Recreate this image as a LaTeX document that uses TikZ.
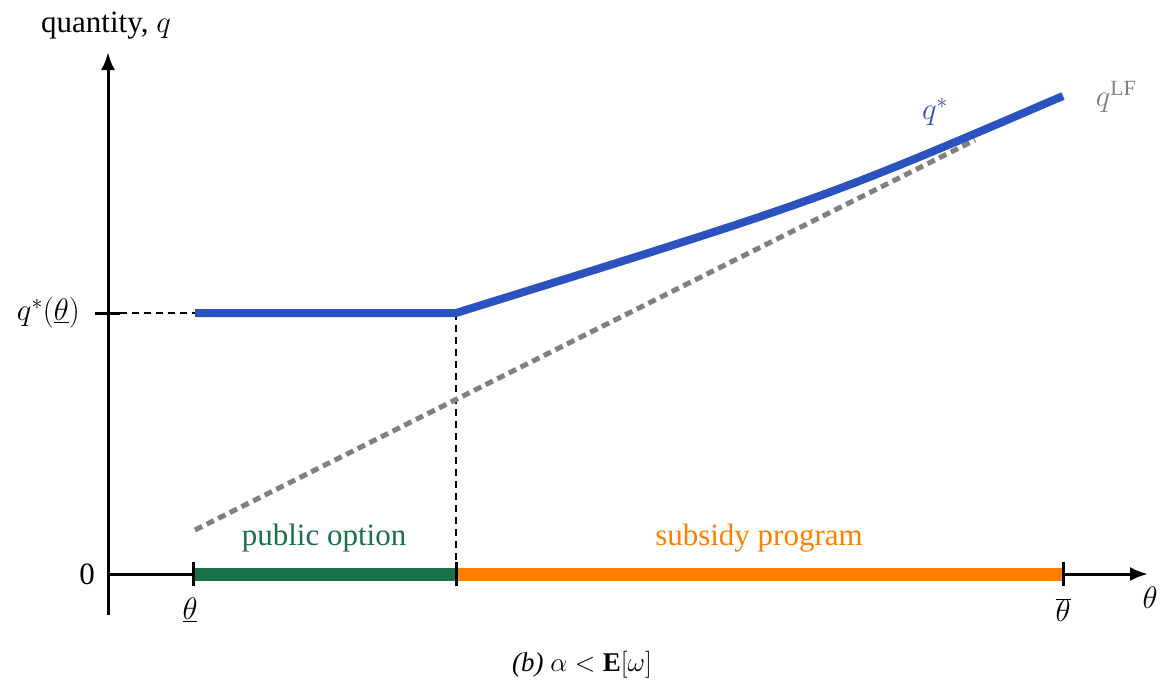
\RequirePackage{fix-cm}
\documentclass[tikz,border=0pt]{standalone}
\usepackage{fontspec}
\setmainfont{Liberation Serif}
\usetikzlibrary{arrows.meta}
\definecolor{qblue}{RGB}{43,82,190}
\definecolor{pgreen}{RGB}{26,112,72}
\definecolor{sorange}{RGB}{255,128,0}
\definecolor{lfgray}{RGB}{128,128,128}
\tikzset{
  axis/.style={line width=3pt,-{Latex[length=18pt,width=14pt]}},
  tickmark/.style={line width=3pt},
  guide/.style={line width=2pt,dash pattern=on 7pt off 5pt},
  lbl/.style={font=\fontsize{31}{36}\selectfont,inner sep=0pt},
}
\begin{document}
\begin{tikzpicture}[x=1pt,y=-1pt]
\useasboundingbox (0,0) rectangle (1164,688);
% coordinates
\coordinate (O) at (108,574);
\coordinate (ytop) at (108,52);
\coordinate (ybot) at (108,615);
\coordinate (xtip) at (1148,574);
\coordinate (xlo) at (193,574);
\coordinate (xk) at (456,574);
\coordinate (xhi) at (1063,574);
\coordinate (qy) at (108,313);
\coordinate (qs) at (195,313);
\coordinate (kink) at (456,313);
\coordinate (qend) at (1063,96);
\coordinate (lfs) at (195,530);
\coordinate (lfe) at (975,140);
% axes
\draw[axis] (ybot) -- (ytop);
\draw[axis] (O) -- (xtip);
% bars
\draw[pgreen,line width=13pt] (xlo) -- (xk);
\draw[sorange,line width=13pt] (xk) -- (xhi);
% ticks
\draw[tickmark] ([xshift=-13pt]qy) -- ([xshift=12pt]qy);
\draw[tickmark] ([yshift=-12pt]xlo) -- ([yshift=12pt]xlo);
\draw[tickmark] ([yshift=-12pt]xk) -- ([yshift=12pt]xk);
\draw[tickmark] ([yshift=-12pt]xhi) -- ([yshift=12pt]xhi);
% guides
\draw[guide] ([xshift=12pt]qy) -- (qs);
\draw[guide] (kink) -- (xk);
% laissez-faire line
\draw[lfgray,line width=5pt,dash pattern=on 8pt off 5pt] (lfs) -- (lfe);
% optimal q
\draw[qblue,line width=8pt,line join=round] (qs) -- (kink) .. controls (823,199) .. (qend);
% labels
\node[lbl] (ylab) at (106,26) {quantity, $q$};
\node[lbl] (xlab) at (1150,598) {$\theta$};
\node[lbl,anchor=east] (qlab) at (80,313) {$q^*(\underline{\theta})$};
\node[lbl] (zero) at (87,574) {0};
\node[lbl] (tlo) at (190,610) {$\underline{\theta}$};
\node[lbl] (thi) at (1063,610) {$\overline{\theta}$};
\node[lbl,text=pgreen] (pub) at (324,538) {public option};
\node[lbl,text=sorange] (sub) at (759,538) {subsidy program};
\node[lbl,text=qblue] (qstar) at (935,112) {$q^*$};
\node[lbl,text=lfgray] (qlf) at (1116,97) {$q^{\mathrm{LF}}$};
\node[font=\fontsize{27}{32}\selectfont,inner sep=0pt] (cap) at (582,665) {\textit{(b)} $\alpha < \mathbf{E}[\omega]$};
\end{tikzpicture}
\end{document}
